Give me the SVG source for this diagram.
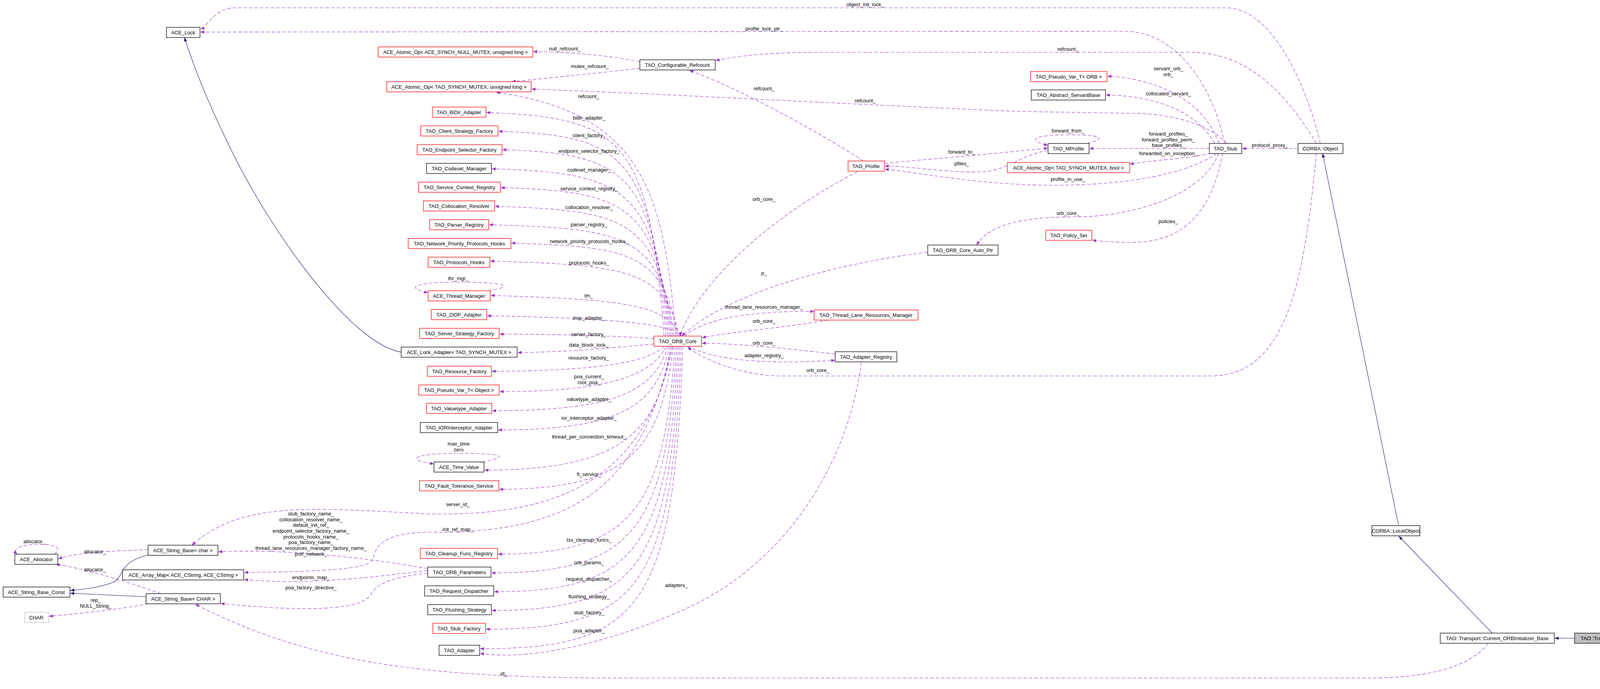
<svg xmlns="http://www.w3.org/2000/svg" width="4339" height="1763" viewBox="0 0 4339 1763">
<style>
.n rect{fill:#fff;stroke:#000;stroke-width:1.3}
.n.r rect{stroke:#ff0000}
.n.g rect{stroke:#bfbfbf}
.n.f rect{fill:#bfbfbf}
text{font-family:"Liberation Sans",Arial,sans-serif;font-size:13px;fill:#000}
.n text{text-anchor:middle}
.e path{fill:none;stroke:#9a32cd;stroke-width:1.1;stroke-dasharray:9,5;marker-end:url(#pa)}
.e path.i{stroke:#191970;stroke-dasharray:none;marker-end:url(#ba)}
.l text{text-anchor:middle}
</style>
<defs>
<marker id="pa" viewBox="0 0 10 8" refX="10" refY="4" markerWidth="11" markerHeight="8" markerUnits="userSpaceOnUse" orient="auto"><path d="M0,0L10,4L0,8z" fill="#9a32cd"/></marker>
<marker id="ba" viewBox="0 0 10 8" refX="10" refY="4" markerWidth="11" markerHeight="8" markerUnits="userSpaceOnUse" orient="auto"><path d="M0,0L10,4L0,8z" fill="#191970"/></marker>
</defs>
<rect width="4339" height="1763" fill="#fff"/>
<g id="edges" class="e">
<path d="M3380 367C3340 200 3250 20 3140 20L600 20C550 20 530 70 513 74"/>
<path d="M3135 367C3100 200 3000 80 2880 80L513 82"/>
<path class="i" d="M1027 901C900 880 700 600 600 400C520 240 490 150 472 96"/>
<path d="M1638 158C1550 140 1450 133 1365 132"/>
<path d="M1638 175C1500 190 1400 200 1310 209"/>
<path d="M2210 412C2100 340 1900 230 1765 180"/>
<path d="M3370 367C3300 250 3200 134 3050 134L2100 134C1950 134 1880 145 1832 155"/>
<path d="M3140 367C3100 320 3000 290 2900 290L2600 285C2200 268 1700 240 1361 228"/>
<path d="M1730 860C1700 500 1650 290 1270 236"/>
<path d="M1700 860C1660 360 1600 300 1245 288"/>
<path d="M1705 860C1665 400 1600 346 1276 336"/>
<path d="M1710 860C1670 440 1600 393 1286 383"/>
<path d="M1714 860C1675 480 1600 442 1259 432"/>
<path d="M1718 860C1680 520 1600 490 1282 480"/>
<path d="M1722 860C1685 560 1600 538 1267 528"/>
<path d="M1726 860C1690 600 1600 585 1252 575"/>
<path d="M1734 860C1700 640 1600 632 1309 622"/>
<path d="M1738 860C1705 690 1600 678 1255 668"/>
<path d="M1742 860C1710 780 1600 766 1256 756"/>
<path d="M1746 860C1715 830 1600 815 1247 808"/>
<path d="M1674 866C1550 858 1400 855 1279 855"/>
<path d="M1674 880C1550 892 1420 902 1325 902"/>
<path d="M1700 886C1660 930 1500 950 1259 950"/>
<path d="M1705 886C1670 960 1560 1002 1279 1002"/>
<path d="M1710 886C1675 1000 1580 1051 1260 1051"/>
<path d="M1714 886C1680 1040 1590 1100 1275 1100"/>
<path d="M1718 886C1685 1100 1600 1203 1240 1203"/>
<path d="M1724 886C1690 1150 1610 1252 1278 1252"/>
<path d="M1722 886C1650 1250 1400 1320 1100 1315C800 1300 620 1280 491 1395"/>
<path d="M1718 886C1640 1300 1400 1362 1100 1362C980 1362 960 1400 955 1430C945 1460 800 1462 625 1465"/>
<path d="M1728 886C1700 1300 1620 1418 1275 1418"/>
<path d="M1732 886C1705 1350 1625 1466 1258 1466"/>
<path d="M1736 886C1710 1400 1630 1514 1265 1514"/>
<path d="M1740 886C1715 1450 1635 1562 1259 1562"/>
<path d="M1744 886C1720 1500 1640 1610 1244 1610"/>
<path d="M1748 886C1725 1550 1645 1660 1229 1660"/>
<path d="M2205 926C2170 1200 2000 1450 1750 1560C1550 1650 1350 1690 1229 1672"/>
<path d="M379 1406C300 1410 200 1412 149 1430"/>
<path d="M412 1519C330 1490 220 1455 143 1444"/>
<path d="M140 1418C160 1400 140 1392 95 1393C50 1394 30 1405 44 1418"/>
<path class="i" d="M379 1420C300 1440 320 1475 290 1490C250 1505 210 1508 180 1511"/>
<path class="i" d="M374 1527L180 1518"/>
<path d="M380 1545C300 1560 200 1570 125 1577"/>
<path d="M1095 1455C900 1420 700 1405 559 1412"/>
<path d="M1095 1460C1000 1470 950 1480 800 1487C700 1490 650 1485 625 1483"/>
<path d="M1095 1467C990 1477 960 1500 950 1520C930 1560 800 1560 700 1555C620 1550 580 1546 565 1544"/>
<path d="M3810 1646C3760 1710 3650 1735 3500 1735L1600 1735C1100 1735 800 1700 500 1546"/>
<path d="M2265 418C2400 405 2560 392 2683 379"/>
<path d="M2683 385C2600 400 2580 440 2500 440C2400 440 2320 424 2265 425"/>
<path d="M3115 392C3050 440 2900 474 2700 474C2500 474 2350 440 2265 433"/>
<path d="M2783 367C2830 355 2830 345 2734 345C2640 345 2630 360 2683 372"/>
<path d="M3096 380L2789 380"/>
<path d="M3100 392C3050 405 2950 410 2892 420"/>
<path d="M3120 367C3080 250 2950 200 2835 195"/>
<path d="M3110 367C3060 280 2950 245 2831 243"/>
<path d="M3130 392C3110 500 3060 620 2900 620C2840 620 2810 617 2796 614"/>
<path d="M3120 392C3080 500 2900 555 2750 555C2600 555 2530 580 2500 627"/>
<path d="M2375 645C2100 680 1850 760 1745 860"/>
<path d="M2195 439C2000 540 1800 700 1740 860"/>
<path d="M1752 860C1800 820 1900 795 2084 797"/>
<path d="M2120 819C2000 840 1900 845 1797 864"/>
<path d="M2138 906C2000 890 1900 880 1797 878"/>
<path d="M1760 886C1850 930 2000 930 2138 922"/>
<path d="M3370 392C3340 700 3300 962 3100 962L2000 962C1900 962 1800 920 1760 888"/>
<path d="M3323 380L3180 380"/>
<path class="i" d="M3580 1343L3386 393"/>
<path class="i" d="M3820 1620L3581 1372"/>
<path class="i" d="M4031 1633L3980 1633"/>
<path d="M1250 744C1310 735 1310 722 1175 722C1050 722 1040 738 1096 749"/>
<path d="M1235 1182C1300 1170 1300 1160 1175 1160C1050 1160 1040 1178 1111 1187"/>
</g>
<g id="labels" class="l">
<text x="2215" y="16">object_init_lock_</text>
<text x="1956" y="78">profile_lock_ptr_</text>
<text x="1446" y="129">null_refcount_</text>
<text x="1510" y="174">mutex_refcount_</text>
<text x="1956" y="231">refcount_</text>
<text x="2734" y="130">refcount_</text>
<text x="2215" y="262">refcount_</text>
<text x="1507" y="251">refcount_</text>
<text x="1508" y="306">bidir_adapter_</text>
<text x="1508" y="351">client_factory_</text>
<text x="1508" y="391">endpoint_selector_factory_</text>
<text x="1508" y="439">codeset_manager_</text>
<text x="1508" y="487">service_context_registry_</text>
<text x="1508" y="535">collocation_resolver_</text>
<text x="1508" y="579">parser_registry_</text>
<text x="1508" y="622">network_priority_protocols_hooks_</text>
<text x="1508" y="677">protocols_hooks_</text>
<text x="1173" y="717">thr_mgr_</text>
<text x="1507" y="761">tm_</text>
<text x="1507" y="818">ziop_adapter_</text>
<text x="1507" y="860">server_factory_</text>
<text x="1507" y="887">data_block_lock_</text>
<text x="1507" y="920">resource_factory_</text>
<text x="1508" y="968">poa_current_</text>
<text x="1508" y="983">root_poa_</text>
<text x="1508" y="1026">valuetype_adapter_</text>
<text x="1508" y="1074">ior_interceptor_adapter_</text>
<text x="1508" y="1122">thread_per_connection_timeout_</text>
<text x="1174" y="1140">max_time</text>
<text x="1174" y="1155">zero</text>
<text x="1508" y="1218">ft_service_</text>
<text x="1172" y="1295">server_id_</text>
<text x="1172" y="1359">init_ref_map_</text>
<text x="1508" y="1386">tss_cleanup_funcs_</text>
<text x="1508" y="1444">orb_params_</text>
<text x="1508" y="1486">request_dispatcher_</text>
<text x="1508" y="1531">flushing_strategy_</text>
<text x="1508" y="1572">stub_factory_</text>
<text x="1508" y="1618">poa_adapter_</text>
<text x="1732" y="1502">adapters_</text>
<text x="88" y="1390">allocator_</text>
<text x="243" y="1416">allocator_</text>
<text x="243" y="1462">allocator_</text>
<text x="245" y="1540">rep_</text>
<text x="245" y="1555">NULL_String_</text>
<text x="796" y="1319">stub_factory_name_</text>
<text x="796" y="1334">collocation_resolver_name_</text>
<text x="796" y="1348">default_init_ref_</text>
<text x="796" y="1363">endpoint_selector_factory_name_</text>
<text x="796" y="1378">protocols_hooks_name_</text>
<text x="796" y="1392">poa_factory_name_</text>
<text x="796" y="1407">thread_lane_resources_manager_factory_name_</text>
<text x="796" y="1422">pref_network_</text>
<text x="796" y="1482">endpoints_map_</text>
<text x="796" y="1508">poa_factory_directive_</text>
<text x="1290" y="1728">id_</text>
<text x="2462" y="393">forward_to_</text>
<text x="2462" y="423">pfiles_</text>
<text x="2734" y="463">profile_in_use_</text>
<text x="2734" y="339">forward_from_</text>
<text x="2991" y="347">forward_profiles_</text>
<text x="2991" y="362">forward_profiles_perm_</text>
<text x="2991" y="376">base_profiles_</text>
<text x="2991" y="397">forwarded_on_exception_</text>
<text x="2991" y="180">servant_orb_</text>
<text x="2991" y="195">orb_</text>
<text x="2991" y="244">collocated_servant_</text>
<text x="2991" y="571">policies_</text>
<text x="2734" y="550">orb_core_</text>
<text x="1956" y="703">p_</text>
<text x="1956" y="514">orb_core_</text>
<text x="1956" y="790">thread_lane_resources_manager_</text>
<text x="1956" y="826">orb_core_</text>
<text x="1956" y="882">orb_core_</text>
<text x="1956" y="914">adapter_registry_</text>
<text x="2094" y="952">orb_core_</text>
<text x="3251" y="376">protocol_proxy_</text>
</g>
<g id="n1" class="n"><rect x="426" y="70" width="86" height="26"/><text x="469" y="88">ACE_Lock</text></g>
<g id="n2" class="n r"><rect x="968" y="120" width="396" height="26"/><text x="1166" y="138" textLength="370" lengthAdjust="spacingAndGlyphs">ACE_Atomic_Op&lt; ACE_SYNCH_NULL_MUTEX, unsigned long &gt;</text></g>
<g id="n3" class="n"><rect x="1638" y="153" width="193" height="26"/><text x="1734" y="171">TAO_Configurable_Refcount</text></g>
<g id="n4" class="n r"><rect x="990" y="209" width="370" height="26"/><text x="1175" y="227" textLength="346" lengthAdjust="spacingAndGlyphs">ACE_Atomic_Op&lt; TAO_SYNCH_MUTEX, unsigned long &gt;</text></g>
<g id="n5" class="n r"><rect x="1107" y="274" width="137" height="26"/><text x="1175" y="292">TAO_BiDir_Adapter</text></g>
<g id="n6" class="n r"><rect x="1077" y="322" width="198" height="26"/><text x="1176" y="340">TAO_Client_Strategy_Factory</text></g>
<g id="n7" class="n r"><rect x="1068" y="370" width="217" height="26"/><text x="1176" y="388">TAO_Endpoint_Selector_Factory</text></g>
<g id="n8" class="n"><rect x="1092" y="418" width="166" height="26"/><text x="1175" y="436">TAO_Codeset_Manager</text></g>
<g id="n9" class="n r"><rect x="1071" y="466" width="210" height="26"/><text x="1176" y="484">TAO_Service_Context_Registry</text></g>
<g id="n10" class="n r"><rect x="1084" y="514" width="182" height="26"/><text x="1175" y="532">TAO_Collocation_Resolver</text></g>
<g id="n11" class="n r"><rect x="1100" y="562" width="151" height="26"/><text x="1175" y="580">TAO_Parser_Registry</text></g>
<g id="n12" class="n r"><rect x="1045" y="610" width="263" height="26"/><text x="1176" y="628">TAO_Network_Priority_Protocols_Hooks</text></g>
<g id="n13" class="n r"><rect x="1096" y="658" width="158" height="26"/><text x="1175" y="676">TAO_Protocols_Hooks</text></g>
<g id="n14" class="n r"><rect x="1096" y="744" width="159" height="26"/><text x="1175" y="762">ACE_Thread_Manager</text></g>
<g id="n15" class="n r"><rect x="1104" y="792" width="142" height="26"/><text x="1175" y="810">TAO_ZIOP_Adapter</text></g>
<g id="n16" class="n r"><rect x="1074" y="840" width="204" height="26"/><text x="1176" y="858">TAO_Server_Strategy_Factory</text></g>
<g id="n17" class="n"><rect x="1027" y="888" width="297" height="26"/><text x="1175" y="906">ACE_Lock_Adapter&lt; TAO_SYNCH_MUTEX &gt;</text></g>
<g id="n18" class="n r"><rect x="1094" y="937" width="164" height="26"/><text x="1176" y="955">TAO_Resource_Factory</text></g>
<g id="n19" class="n r"><rect x="1072" y="985" width="206" height="26"/><text x="1175" y="1003">TAO_Pseudo_Var_T&lt; Object &gt;</text></g>
<g id="n20" class="n r"><rect x="1092" y="1032" width="167" height="26"/><text x="1175" y="1050">TAO_Valuetype_Adapter</text></g>
<g id="n21" class="n"><rect x="1076" y="1081" width="198" height="26"/><text x="1175" y="1099">TAO_IORInterceptor_Adapter</text></g>
<g id="n22" class="n"><rect x="1111" y="1182" width="128" height="26"/><text x="1175" y="1200">ACE_Time_Value</text></g>
<g id="n23" class="n r"><rect x="1074" y="1230" width="203" height="26"/><text x="1175" y="1248">TAO_Fault_Tolerance_Service</text></g>
<g id="n24" class="n r"><rect x="1076" y="1403" width="198" height="26"/><text x="1175" y="1421">TAO_Cleanup_Func_Registry</text></g>
<g id="n25" class="n"><rect x="1095" y="1451" width="162" height="26"/><text x="1176" y="1469">TAO_ORB_Parameters</text></g>
<g id="n26" class="n"><rect x="1087" y="1499" width="177" height="26"/><text x="1175" y="1517">TAO_Request_Dispatcher</text></g>
<g id="n27" class="n"><rect x="1095" y="1547" width="163" height="26"/><text x="1176" y="1565">TAO_Flushing_Strategy</text></g>
<g id="n28" class="n r"><rect x="1108" y="1595" width="135" height="26"/><text x="1175" y="1613">TAO_Stub_Factory</text></g>
<g id="n29" class="n"><rect x="1124" y="1651" width="104" height="26"/><text x="1176" y="1669">TAO_Adapter</text></g>
<g id="n30" class="n r"><rect x="1674" y="860" width="122" height="26"/><text x="1735" y="878">TAO_ORB_Core</text></g>
<g id="n31" class="n r"><rect x="2171" y="412" width="93" height="26"/><text x="2217" y="430">TAO_Profile</text></g>
<g id="n32" class="n r"><rect x="2084" y="793" width="266" height="26"/><text x="2217" y="811">TAO_Thread_Lane_Resources_Manager</text></g>
<g id="n33" class="n"><rect x="2138" y="900" width="158" height="26"/><text x="2217" y="918">TAO_Adapter_Registry</text></g>
<g id="n34" class="n"><rect x="2375" y="627" width="180" height="26"/><text x="2465" y="645">TAO_ORB_Core_Auto_Ptr</text></g>
<g id="n35" class="n r"><rect x="2638" y="183" width="196" height="26"/><text x="2736" y="201">TAO_Pseudo_Var_T&lt; ORB &gt;</text></g>
<g id="n36" class="n"><rect x="2640" y="230" width="190" height="26"/><text x="2735" y="248">TAO_Abstract_ServantBase</text></g>
<g id="n37" class="n"><rect x="2683" y="367" width="105" height="26"/><text x="2735" y="385">TAO_MProfile</text></g>
<g id="n38" class="n r"><rect x="2579" y="416" width="313" height="26"/><text x="2735" y="434">ACE_Atomic_Op&lt; TAO_SYNCH_MUTEX, bool &gt;</text></g>
<g id="n39" class="n r"><rect x="2677" y="589" width="118" height="26"/><text x="2736" y="607">TAO_Policy_Set</text></g>
<g id="n40" class="n"><rect x="3096" y="367" width="83" height="26"/><text x="3137" y="385">TAO_Stub</text></g>
<g id="n41" class="n"><rect x="3323" y="367" width="115" height="26"/><text x="3380" y="385">CORBA::Object</text></g>
<g id="n42" class="n"><rect x="3512" y="1345" width="123" height="26"/><text x="3573" y="1363">CORBA::LocalObject</text></g>
<g id="n43" class="n"><rect x="3687" y="1620" width="292" height="26"/><text x="3833" y="1638">TAO::Transport::Current_ORBInitializer_Base</text></g>
<g id="n44" class="n f"><rect x="4031" y="1620" width="304" height="26"/><text x="4183" y="1638">TAO::Transport::Current_ORBInitializer&lt; Impl &gt;</text></g>
<g id="n45" class="n"><rect x="38" y="1418" width="110" height="26"/><text x="93" y="1436">ACE_Allocator</text></g>
<g id="n46" class="n"><rect x="8" y="1502" width="171" height="26"/><text x="93" y="1520">ACE_String_Base_Const</text></g>
<g id="n47" class="n g"><rect x="63" y="1567" width="61" height="26"/><text x="93" y="1585">CHAR</text></g>
<g id="n48" class="n"><rect x="379" y="1395" width="179" height="26"/><text x="468" y="1413">ACE_String_Base&lt; char &gt;</text></g>
<g id="n49" class="n"><rect x="314" y="1458" width="310" height="26"/><text x="469" y="1476">ACE_Array_Map&lt; ACE_CString, ACE_CString &gt;</text></g>
<g id="n50" class="n"><rect x="374" y="1519" width="190" height="26"/><text x="469" y="1537">ACE_String_Base&lt; CHAR &gt;</text></g>
</svg>
